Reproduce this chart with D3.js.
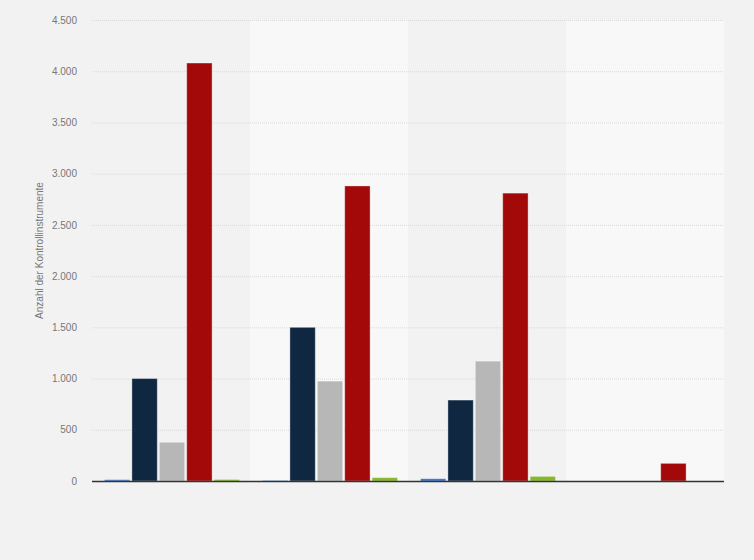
<!DOCTYPE html>
<html lang="de">
<head>
    <meta charset="UTF-8">
    <title>Anzahl der Kontrollinstrumente</title>
    <script src="https://d3js.org/d3.v7.min.js"></script>
    <style>
        body {
            margin: 0;
            background: #f2f2f2;
        }
        #chart svg {
            display: block;
            font-family: "Liberation Sans", Arial, sans-serif;
        }
        .grid line {
            stroke: #d9d9d9;
            stroke-dasharray: 1,1;
        }
        .tick text {
            fill: #777;
            font-size: 10px;
        }
    </style>
</head>
<body>
    <div id="chart"></div>
    <script>
        // Groups (no labels shown on the x axis in the reference)
        const categories = ["Gruppe 1", "Gruppe 2", "Gruppe 3", "Gruppe 4"];
        const seriesNames = ["Serie A", "Serie B", "Serie C", "Serie D", "Serie E"];
        const seriesColors = ["#2a6fcf", "#0f2740", "#b7b7b7", "#a30909", "#86b92a"];

        // one array per series, values per group
        const serieA = [13, 4, 22, 0];
        const serieB = [1000, 1500, 790, 0];
        const serieC = [378, 975, 1170, 0];
        const serieD = [4080, 2880, 2810, 172];
        const serieE = [15, 33, 45, 0];

        const yTicks = [0, 500, 1000, 1500, 2000, 2500, 3000, 3500, 4000, 4500];

        const seriesValues = [serieA, serieB, serieC, serieD, serieE];
        const data = categories.map((c, i) => ({
            category: c,
            values: seriesNames.map((s, j) => ({ series: s, idx: j, value: seriesValues[j][i] }))
        }));

        const margin = {top: 20, right: 30, bottom: 79, left: 92},
              width = 754 - margin.left - margin.right,
              height = 560 - margin.top - margin.bottom;

        const svg = d3.select("#chart").append("svg")
            .attr("width", 754)
            .attr("height", 560)
          .append("g")
            .attr("transform", "translate(" + margin.left + "," + margin.top + ")");

        const x0 = d3.scaleBand()
            .domain(categories)
            .range([0, width])
            .padding(0);

        const x1 = d3.scaleBand()
            .domain(seriesNames)
            .range([12.5, x0.bandwidth() - 10.5])
            .paddingInner(0.075)
            .paddingOuter(0);

        const y = d3.scaleLinear()
            .domain([0, 4500])
            .range([height, 0]);

        // alternating band backgrounds
        svg.selectAll(".band")
            .data(categories)
          .enter().append("rect")
            .attr("class", "band")
            .attr("x", d => x0(d))
            .attr("y", 0)
            .attr("width", x0.bandwidth())
            .attr("height", height)
            .attr("fill", (d, i) => i % 2 ? "#f8f8f8" : "#f2f2f2");

        // grid lines
        svg.append("g")
            .attr("class", "grid")
            .call(d3.axisLeft(y).tickValues(yTicks).tickSize(-width).tickFormat(""))
            .call(g => g.select(".domain").remove())
            .call(g => g.selectAll(".tick").filter(d => d === 0).remove());

        // y axis labels
        svg.append("g")
            .call(d3.axisLeft(y)
                .tickValues(yTicks)
                .tickSize(0)
                .tickPadding(15)
                .tickFormat(d => d3.format(",")(d).replace(/,/g, ".")))
            .call(g => g.select(".domain").remove());

        // bars
        const groups = svg.selectAll(".group")
            .data(data)
          .enter().append("g")
            .attr("class", "group")
            .attr("transform", d => "translate(" + x0(d.category) + ",0)");

        groups.selectAll("rect")
            .data(d => d.values)
          .enter().append("rect")
            .attr("x", d => x1(d.series))
            .attr("width", x1.bandwidth())
            .attr("y", d => y(d.value))
            .attr("height", d => height - y(d.value))
            .attr("fill", d => seriesColors[d.idx])
            .attr("stroke", "rgba(255,255,255,0.35)")
            .attr("stroke-width", 1);

        // baseline
        svg.append("line")
            .attr("x1", 0)
            .attr("x2", width)
            .attr("y1", height + 0.5)
            .attr("y2", height + 0.5)
            .attr("stroke", "#333")
            .attr("stroke-width", 1.3);

        // y axis title
        svg.append("text")
            .attr("transform", "rotate(-90)")
            .attr("x", -height / 2)
            .attr("y", -49)
            .attr("text-anchor", "middle")
            .style("font-size", "10px")
            .style("fill", "#777")
            .text("Anzahl der Kontrollinstrumente");
    </script>
</body>
</html>
